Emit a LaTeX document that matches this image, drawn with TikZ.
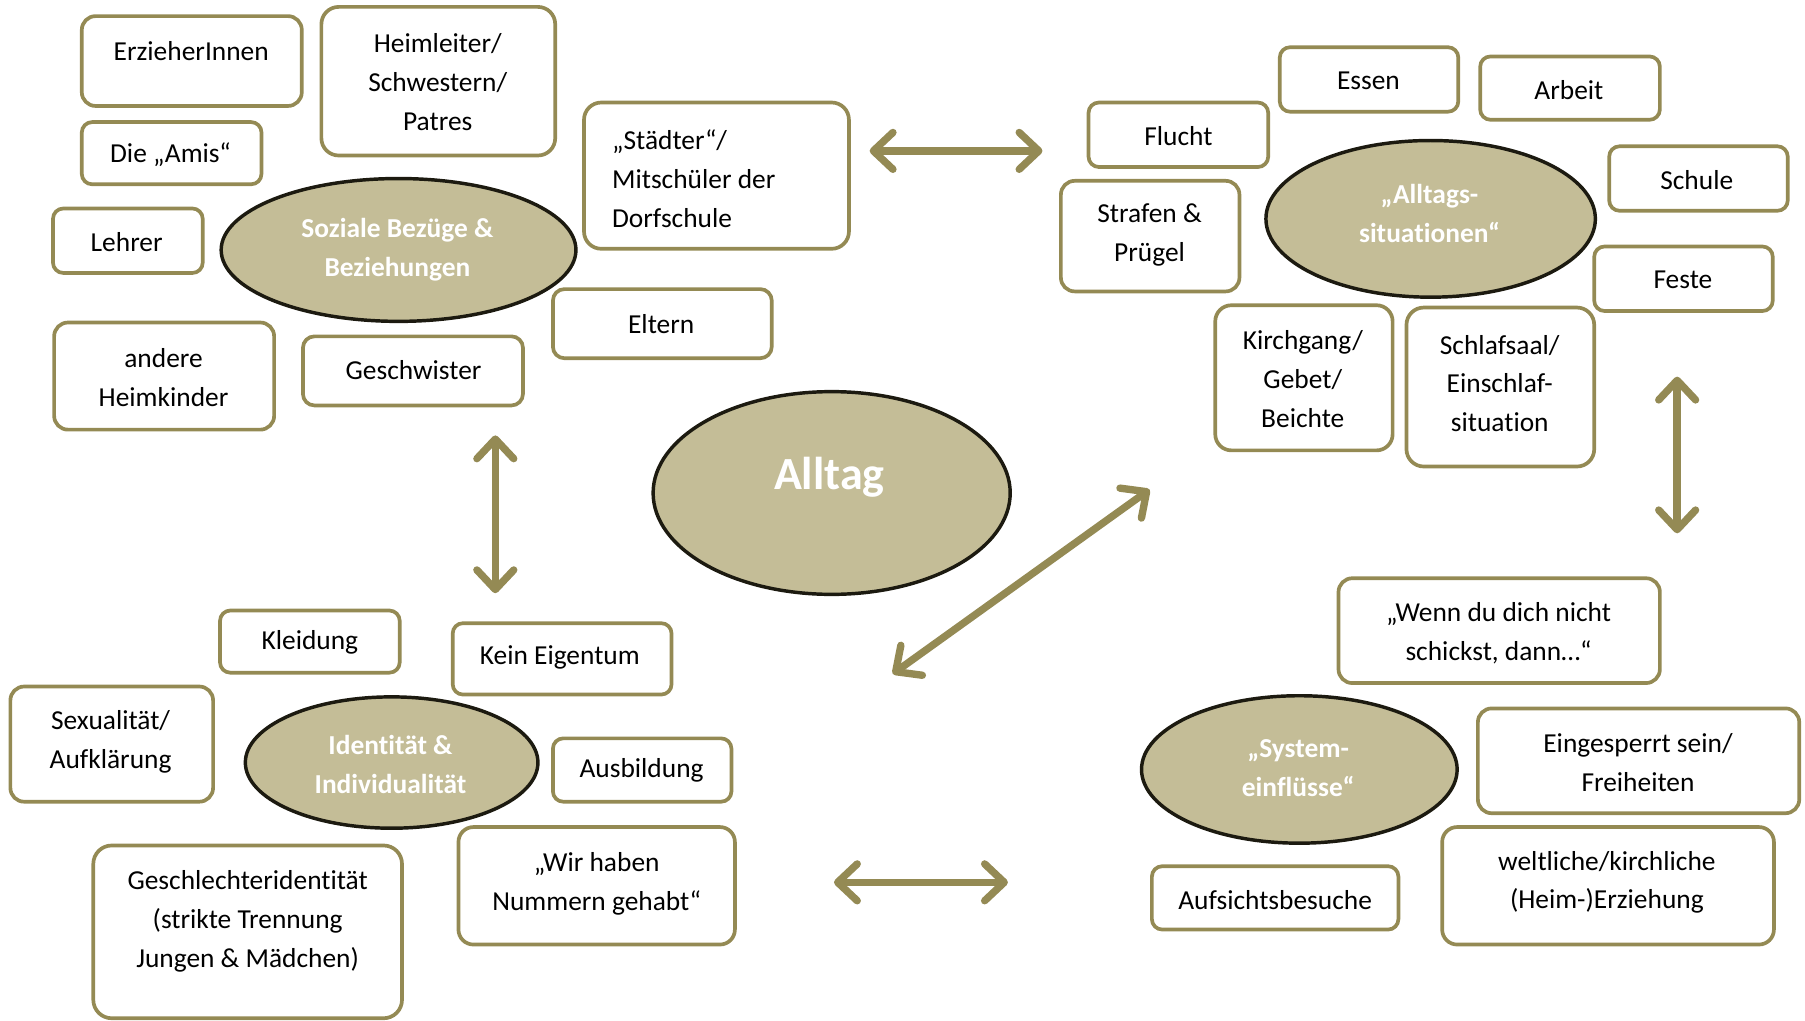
\documentclass[tikz,border=0pt]{standalone}
\usepackage{fontspec}
\setmainfont{Carlito}[Ligatures=NoCommon]
\usetikzlibrary{arrows.meta,fit,shapes.geometric}
\definecolor{olivec}{HTML}{948A54}
\definecolor{tanc}{HTML}{C4BD97}
\definecolor{blobline}{HTML}{1C1A10}
\begin{document}
\begin{tikzpicture}[x=0.5pt,y=-0.5pt,
  box/.style={draw=olivec, line width=1.6pt, rounded corners=#1, inner sep=0pt, fill=white},
  box/.default=4.5pt,
  txt/.style={font=\fontsize{11.9}{16.9}\selectfont, align=center, inner sep=0pt, text=black},
  blob/.style={ellipse, draw=blobline, line width=1.5pt, fill=tanc, inner sep=0pt},
  btxt/.style={font=\fontsize{11.9}{16.9}\selectfont\bfseries, text=white, align=center, inner sep=0pt},
  dbl/.style={draw=olivec, line width=3.2pt, line cap=round,
    {Straight Barb[length=8.5pt,width=16pt,round]}-{Straight Barb[length=8.5pt,width=16pt,round]}}
]
\useasboundingbox (0,0) rectangle (1567,886);

% ---------- Soziale Bezuege ----------
\node[box=6pt, fit={(71,14) (262,92)}] (erz) {};
\node[txt] (erzt) at (166,44) {ErzieherInnen};
\node[box=7.5pt, fit={(279,6) (482,135)}] (heim) {};
\node[txt] (heimt) at (380,71.5) {Heimleiter/\\Schwestern/\\Patres};
\node[box, fit={(71,106) (227,160)}] (amis) {};
\node[txt] (amist) at (148,134) {Die „Amis“};
\node[box, fit={(46,181) (176,237)}] (lehrer) {};
\node[txt] (lehrert) at (110,210) {Lehrer};
\node[box=7.5pt, fit={(507,89) (737,216)}] (staedter) {};
\node[txt, align=left, anchor=west] (staedtert) at (531,155) {„Städter“/\\Mitschüler der\\Dorfschule};
\node[box=5pt, fit={(480,251) (670,311)}] (eltern) {};
\node[txt] (elternt) at (574,281) {Eltern};
\node[box=6pt, fit={(47,280) (238,373)}] (andere) {};
\node[txt] (anderet) at (142,327.5) {andere\\Heimkinder};
\node[box=5pt, fit={(263,292) (454,352)}] (geschw) {};
\node[txt] (geschwt) at (359,321) {Geschwister};
\node[blob, minimum width=154pt, minimum height=62pt] (soz) at (346,217) {};
\node[btxt] (sozt) at (345,217) {Soziale Bezüge \&\\Beziehungen};

% ---------- Alltag ----------
\node[blob, minimum width=155pt, minimum height=88pt] (alltag) at (722,428) {};
\node[btxt, font=\fontsize{20}{24}\selectfont\bfseries] (alltagt) at (720,414) {Alltag};

% ---------- Alltagssituationen ----------
\node[box, fit={(1111,41) (1266,97)}] (essen) {};
\node[txt] (essent) at (1188,70) {Essen};
\node[box, fit={(1285,49) (1441,104)}] (arbeit) {};
\node[txt] (arbeitt) at (1362,78) {Arbeit};
\node[box, fit={(945,89) (1101,145)}] (flucht) {};
\node[txt] (fluchtt) at (1023,118) {Flucht};
\node[box=6pt, fit={(921,157) (1076,253)}] (strafen) {};
\node[txt] (strafent) at (998,204) {Strafen \&\\Prügel};
\node[blob, minimum width=143pt, minimum height=68pt] (situ) at (1242,190) {};
\node[btxt] (situt) at (1241,185) {„Alltags-\\situationen“};
\node[box, fit={(1397,127) (1552,183)}] (schule) {};
\node[txt] (schulet) at (1473,156) {Schule};
\node[box, fit={(1384,214) (1539,270)}] (feste) {};
\node[txt] (festet) at (1461,243) {Feste};
\node[box=7pt, fit={(1055,265) (1209,391)}] (kirch) {};
\node[txt] (kircht) at (1131,329) {Kirchgang/\\Gebet/\\Beichte};
\node[box=7.5pt, fit={(1221,267) (1384,405)}] (schlaf) {};
\node[txt] (schlaft) at (1302,333) {Schlafsaal/\\Einschlaf-\\situation};

% ---------- Systemeinfluesse ----------
\node[box=6pt, fit={(1162,502) (1441,593)}] (wenn) {};
\node[txt] (wennt) at (1301,550) {„Wenn du dich nicht\\schickst, dann…“};
\node[blob, minimum width=137pt, minimum height=64pt] (sys) at (1128,668) {};
\node[btxt] (syst) at (1127,667) {„System-\\einflüsse“};
\node[box=6pt, fit={(1283,615) (1562,706)}] (einges) {};
\node[txt] (eingest) at (1422,662) {Eingesperrt sein/\\Freiheiten};
\node[box, fit={(1000,752) (1214,807)}] (aufs) {};
\node[txt] (aufst) at (1107,781) {Aufsichtsbesuche};
\node[box=6.5pt, fit={(1252,718) (1540,820)}] (weltl) {};
\node[txt] (weltlt) at (1395,766) {weltliche/kirchliche\\(Heim-)Erziehung};

% ---------- Identitaet ----------
\node[box, fit={(191,530) (347,584)}] (kleid) {};
\node[txt] (kleidt) at (269,558) {Kleidung};
\node[box, fit={(393,541) (583,603)}] (kein) {};
\node[txt] (keint) at (486,571) {Kein Eigentum};
\node[box=6pt, fit={(9,596) (185,696)}] (sex) {};
\node[txt] (sext) at (96,644) {Sexualität/\\Aufklärung};
\node[blob, minimum width=127pt, minimum height=57pt] (ident) at (340,662) {};
\node[btxt] (identt) at (339,664) {Identität \&\\Individualität};
\node[box, fit={(480,641) (635,696)}] (ausb) {};
\node[txt] (ausbt) at (557,669) {Ausbildung};
\node[box=8pt, fit={(81,734) (349,884)}] (geschl) {};
\node[txt] (geschlt) at (215,800) {Geschlechteridentität\\(strikte Trennung\\Jungen \& Mädchen)};
\node[box=6.5pt, fit={(398,718) (638,820)}] (wir) {};
\node[txt] (wirt) at (518,767) {„Wir haben\\Nummern gehabt“};

% ---------- arrows ----------
\coordinate (a1s) at (755,131); \coordinate (a1e) at (905,131);
\coordinate (a2s) at (430,378); \coordinate (a2e) at (430,515);
\coordinate (a3s) at (775,585); \coordinate (a3e) at (998,425);
\coordinate (a4s) at (1456,327); \coordinate (a4e) at (1456,463);
\coordinate (a5s) at (724,766); \coordinate (a5e) at (875,766);
\draw[dbl] (a1s) -- (a1e);
\draw[dbl] (a2s) -- (a2e);
\draw[dbl] (a3s) -- (a3e);
\draw[dbl] (a4s) -- (a4e);
\draw[dbl] (a5s) -- (a5e);
\end{tikzpicture}
\end{document}
